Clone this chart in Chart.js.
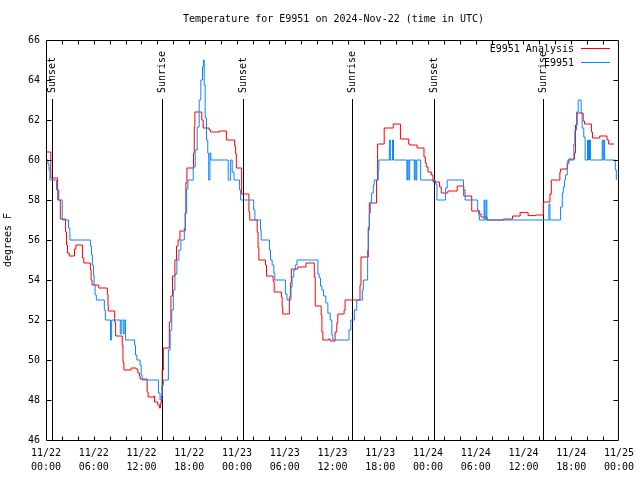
<!DOCTYPE html>
<html>
<head>
<meta charset="utf-8">
<script src="https://cdn.jsdelivr.net/npm/chart.js@4/dist/chart.umd.min.js"></script>
<style>
html,body{margin:0;padding:0;background:#fff;}
canvas{display:block;}
</style>
</head>
<body>
<canvas id="c" width="640" height="480"></canvas>
<script>
const titleText = "Temperature for E9951 on 2024-Nov-22 (time in UTC)";
const yAxisTitle = "degrees F";
const seriesNames = ["E9951 Analysis", "E9951"];
const xTickLabels = [
  ["11/22","00:00"],["11/22","06:00"],["11/22","12:00"],["11/22","18:00"],
  ["11/23","00:00"],["11/23","06:00"],["11/23","12:00"],["11/23","18:00"],
  ["11/24","00:00"],["11/24","06:00"],["11/24","12:00"],["11/24","18:00"],
  ["11/25","00:00"]
];
const sunTimes = [0.7, 14.6, 24.7, 38.5, 48.7, 62.4];
const sunLabels = ["Sunset","Sunrise","Sunset","Sunrise","Sunset","Sunrise"];

const analysisHours = [0,0.6,1.46,1.6,1.8,2.46,2.58,2.7,2.92,3.58,3.75,4.58,4.75,5.58,5.67,5.79,6.63,7.71,7.79,7.83,8.63,8.75,9.58,9.67,9.79,10.7,11.33,11.54,11.75,11.83,12.71,12.83,13.54,13.63,14.04,14.25,14.38,14.5,14.6,14.75,15.5,15.7,15.9,16.2,16.4,16.6,16.83,17.5,17.58,17.71,18.54,18.63,18.71,19.58,19.75,20.5,20.67,21.83,22.67,23.71,23.83,23.92,24.58,25.5,25.6,26.54,26.65,26.75,27.58,27.71,28.54,28.67,29.58,29.67,29.75,30.58,30.71,30.83,31.63,32.67,33.71,33.83,34.58,34.67,34.79,35.5,35.71,36.33,36.54,36.67,37.46,37.58,39.46,39.58,40.5,40.63,41.54,41.67,42.5,43.63,44.54,45.58,45.71,46.63,47.5,47.67,47.79,48.0,48.42,48.63,49.46,49.67,50.5,51.67,52.5,53.5,54.5,54.67,55.42,57.5,58.63,59.58,60.58,61.54,62.5,63.33,63.5,64.58,64.67,65.5,65.71,66.42,66.54,66.75,67.5,67.67,68.54,68.67,69.58,70.5,70.71,71.4];
const analysisTemps = [60.4,59.1,58.5,58.0,57.05,56.4,55.75,55.35,55.2,55.55,55.75,55.1,54.85,54.5,54.0,53.75,53.6,53.3,52.7,52.45,51.9,51.2,50.75,49.9,49.5,49.6,49.55,49.35,49.2,49.05,48.4,48.15,48.2,47.9,47.75,47.6,47.85,48.2,49.5,50.6,51.9,53.2,54.2,55.0,55.7,56.0,56.45,57.35,58.85,59.6,60.35,61.65,62.4,62.0,61.6,61.5,61.4,61.45,61.0,60.7,60.3,59.6,58.3,57.4,57.0,56.4,55.6,55.0,54.75,54.2,53.95,53.4,53.15,52.65,52.3,53.15,53.85,54.55,54.65,54.85,54.15,52.7,52.25,51.4,51.0,51.05,50.95,51.4,51.85,52.3,52.5,53.0,53.75,55.15,56.65,57.85,59.0,60.8,61.6,61.8,61.05,60.8,60.75,60.6,60.15,59.85,59.65,59.4,59.25,58.9,58.65,58.35,58.45,58.7,58.2,57.45,57.3,57.15,57.0,57.05,57.2,57.38,57.22,57.25,57.9,58.3,59.0,59.4,59.55,59.85,60.05,60.35,61.75,62.35,61.95,61.8,61.4,61.1,61.2,61.0,60.8,60.8];

const obsHours = [0,0.25,0.38,0.5,1.33,1.46,2.04,2.83,3.0,5.58,5.71,5.83,5.96,6.04,6.17,6.33,7.33,7.46,8.1,8.25,9.33,9.45,9.7,9.82,10.0,11.13,11.25,11.42,11.83,11.96,12.08,14.13,14.33,14.58,14.75,15.38,15.6,15.8,16.0,16.2,16.45,16.7,16.95,17.38,17.5,17.67,17.83,18.5,18.75,19.0,19.25,19.46,19.67,19.79,19.88,20.0,20.17,20.33,20.45,20.6,20.71,22.9,23.2,23.4,23.63,24.33,24.46,26.1,26.25,26.96,27.04,28.08,28.21,28.42,28.63,28.75,30.08,30.29,30.79,30.92,31.13,31.33,31.54,34.17,34.33,34.5,34.67,34.88,35.17,35.42,35.71,35.92,36.04,38.08,38.3,38.75,39.05,39.75,39.88,40.42,40.5,40.63,40.75,40.92,41.13,41.25,41.75,41.83,43.15,43.27,43.55,43.67,45.35,45.45,45.6,45.7,46.28,46.38,46.5,46.6,47.08,48.92,49.13,50.21,50.42,52.46,52.67,54.25,54.38,54.46,55.05,55.15,55.3,55.4,63.2,63.33,64.67,64.88,65.0,65.17,65.29,65.5,65.58,66.33,66.46,66.67,66.88,67.25,67.38,67.58,67.75,68.05,68.17,68.3,68.42,69.9,70.0,70.1,70.2,71.54,71.67];
const obsTemps = [60.0,59.8,59.5,59.0,58.5,58.0,57.0,56.6,56.0,55.7,55.25,54.75,54.25,53.75,53.25,53.0,52.5,52.0,51.0,52.0,51.3,52.0,51.3,52.0,51.0,50.75,50.25,50.0,49.75,49.25,49.0,48.35,48.0,48.75,49.0,50.5,51.5,52.5,53.5,54.3,55.0,55.5,56.0,56.6,57.35,58.55,59.0,59.65,60.5,61.65,63.0,64.0,64.65,65.0,63.75,62.1,61.0,60.35,59.0,60.35,60.0,59.0,60.0,59.4,59.0,58.5,58.0,57.5,57.0,56.5,56.0,55.5,55.0,54.75,54.35,54.0,53.3,53.0,53.65,54.15,54.5,54.75,55.0,54.3,54.1,53.7,53.5,53.2,52.85,52.35,52.0,51.25,51.0,51.5,52.0,52.5,53.0,53.5,54.0,55.5,56.5,57.35,57.9,58.35,58.75,59.0,59.5,60.0,61.0,60.0,61.0,60.0,59.0,60.0,59.0,60.0,59.0,60.0,59.0,60.0,59.0,58.8,58.0,58.6,59.0,58.5,58.0,57.5,57.25,57.0,58.0,57.0,58.0,57.0,57.8,57.0,57.65,58.35,58.65,59.0,59.25,59.75,60.0,60.8,61.5,62.4,63.0,62.35,61.6,61.15,60.0,61.0,60.0,61.0,60.0,61.0,60.0,61.0,60.0,59.5,59.0];

const yMin = 46, yMax = 66, yStep = 2;
const xMin = 0, xMax = 72, xStep = 2;
const FONT = '"DejaVu Sans Mono", "Liberation Mono", monospace';
const RED = 'rgb(255,0,0)';
const BLUE = 'rgb(10,132,255)';
const seriesColors = [RED, BLUE];

const toPts = (xs, ys) => xs.map((x, i) => ({x: x, y: ys[i]}));

const deco = {
  id: 'deco',
  beforeDatasetsDraw(chart) {
    const ctx = chart.ctx, ca = chart.chartArea, xs = chart.scales.x;
    ctx.save();
    ctx.strokeStyle = '#000';
    ctx.fillStyle = '#000';
    ctx.lineWidth = 1;
    ctx.font = '10px ' + FONT;
    sunTimes.forEach((t, i) => {
      const px = Math.round(xs.getPixelForValue(t)) + 0.5;
      ctx.beginPath();
      ctx.moveTo(px, 99);
      ctx.lineTo(px, ca.bottom);
      ctx.stroke();
      ctx.save();
      ctx.translate(px, 93);
      ctx.rotate(-Math.PI / 2);
      ctx.textAlign = 'left';
      ctx.textBaseline = 'middle';
      ctx.fillText(sunLabels[i], 0, 0);
      ctx.restore();
    });
    ctx.restore();
  },
  afterDatasetsDraw(chart) {
    const ctx = chart.ctx, ca = chart.chartArea, xs = chart.scales.x, ys = chart.scales.y;
    ctx.save();
    ctx.strokeStyle = '#000';
    ctx.lineWidth = 1;
    const L = ca.left + 0.5, R = ca.right - 0.5, T = ca.top + 0.5, B = ca.bottom + 0.5;
    ctx.beginPath();
    ctx.rect(L, T, R - L, B - T);
    ctx.stroke();
    ctx.beginPath();
    for (let v = xMin + xStep; v < xMax; v += xStep) {
      const px = Math.round(xs.getPixelForValue(v)) + 0.5;
      ctx.moveTo(px, B); ctx.lineTo(px, B - 4);
      ctx.moveTo(px, T); ctx.lineTo(px, T + 4);
    }
    for (let v = yMin + yStep; v < yMax; v += yStep) {
      const py = Math.round(ys.getPixelForValue(v)) + 0.5;
      ctx.moveTo(L, py); ctx.lineTo(L + 5, py);
      ctx.moveTo(R, py); ctx.lineTo(R - 5, py);
    }
    ctx.stroke();
    ctx.fillStyle = '#000';
    ctx.font = '10px ' + FONT;
    ctx.textAlign = 'center';
    ctx.textBaseline = 'middle';
    ctx.fillText(titleText, (ca.left + ca.right) / 2 + 1, 19);
    ctx.restore();
  },
  afterDraw(chart) {
    const ctx = chart.ctx;
    ctx.save();
    ctx.font = '10px ' + FONT;
    ctx.textAlign = 'right';
    ctx.textBaseline = 'middle';
    for (let i = 0; i < seriesNames.length; i++) {
      const y = 49 + i * 14;
      ctx.fillStyle = '#000';
      ctx.fillText(seriesNames[i], 574, y);
      ctx.fillStyle = seriesColors[i];
      ctx.fillRect(581, y - 1, 29, 1);
    }
    ctx.restore();
  }
};

new Chart(document.getElementById('c'), {
  type: 'line',
  data: {
    datasets: [
      {label: seriesNames[1], data: toPts(obsHours, obsTemps), borderColor: BLUE, borderWidth: 1, pointRadius: 0, stepped: true, fill: false, order: 0},
      {label: seriesNames[0], data: toPts(analysisHours, analysisTemps), borderColor: RED, borderWidth: 1, pointRadius: 0, stepped: true, fill: false, order: 1}
    ]
  },
  options: {
    responsive: false,
    animation: false,
    devicePixelRatio: 1,
    layout: {padding: {top: 40, right: 18, bottom: 0, left: 0}},
    plugins: {legend: {display: false}, tooltip: {enabled: false}, title: {display: false}},
    scales: {
      x: {
        type: 'linear', min: xMin, max: xMax,
        grid: {display: false, drawTicks: false},
        border: {display: false},
        ticks: {
          stepSize: xStep, autoSkip: false, maxRotation: 0, minRotation: 0, padding: 6,
          color: '#000', font: {family: FONT, size: 10, lineHeight: 1.4},
          callback: (v) => (v % 6 === 0 ? xTickLabels[v / 6] : '')
        },
        afterFit: (s) => { s.height = 40; }
      },
      y: {
        min: yMin, max: yMax,
        grid: {display: false, drawTicks: false},
        border: {display: false},
        ticks: {stepSize: yStep, padding: 6, color: '#000', font: {family: FONT, size: 10}},
        title: {display: true, text: yAxisTitle, color: '#000', font: {family: FONT, size: 10}, padding: {top: 2, bottom: 0}},
        afterFit: (s) => { s.width = 46; }
      }
    }
  },
  plugins: [deco]
});
</script>
</body>
</html>
